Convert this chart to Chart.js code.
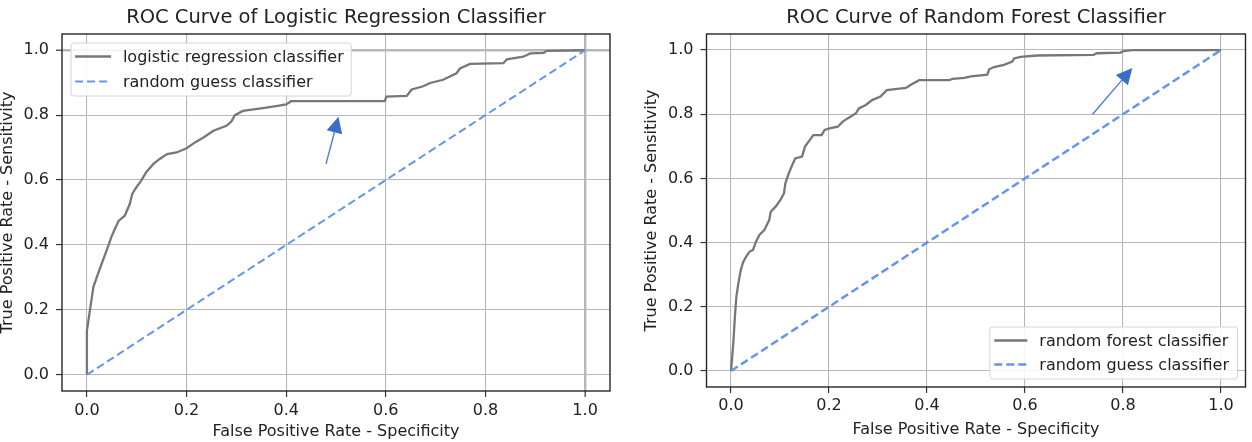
<!DOCTYPE html>
<html>
<head>
<meta charset="utf-8">
<script src="https://cdn.jsdelivr.net/npm/chart.js@4.4.0/dist/chart.umd.min.js"></script>
<style>
  html, body { margin: 0; padding: 0; background: #fff; }
  body { width: 1252px; height: 442px; position: relative; overflow: hidden; }
  canvas { position: absolute; top: 0; }
  #lrChart { left: 0; }
  #rfChart { left: 630px; }
</style>
</head>
<body>
<canvas id="lrChart" width="626" height="442"></canvas>
<canvas id="rfChart" width="622" height="442"></canvas>
<script>
// tick values used on both axes of both plots
const tickValues = [0, 0.2, 0.4, 0.6, 0.8, 1.0];

// logistic regression ROC curve
const lrFpr = [0, 0, 0.004, 0.009, 0.013, 0.022, 0.032, 0.042, 0.049, 0.056,
  0.064, 0.076, 0.086, 0.091, 0.099, 0.109, 0.119, 0.133, 0.146, 0.161,
  0.18, 0.2, 0.217, 0.234, 0.254, 0.28, 0.29, 0.297, 0.313, 0.346,
  0.38, 0.4, 0.41, 0.598, 0.601, 0.642, 0.652, 0.675, 0.689, 0.715,
  0.742, 0.749, 0.769, 0.836, 0.843, 0.876, 0.89, 0.917, 0.923, 1.0];
const lrTpr = [0, 0.136, 0.177, 0.229, 0.27, 0.31, 0.352, 0.393, 0.424, 0.449,
  0.475, 0.49, 0.526, 0.557, 0.577, 0.598, 0.624, 0.649, 0.665, 0.68,
  0.685, 0.698, 0.716, 0.731, 0.752, 0.767, 0.78, 0.80, 0.813, 0.82,
  0.828, 0.833, 0.843, 0.843, 0.857, 0.859, 0.879, 0.889, 0.899, 0.909,
  0.929, 0.944, 0.958, 0.96, 0.972, 0.98, 0.99, 0.992, 0.998, 1.0];

// random forest ROC curve
const rfFpr = [0, 0.005, 0.008, 0.011, 0.015, 0.02, 0.025, 0.031, 0.038, 0.045,
  0.051, 0.058, 0.068, 0.078, 0.081, 0.091, 0.101, 0.108, 0.111, 0.118,
  0.125, 0.131, 0.145, 0.151, 0.161, 0.168, 0.185, 0.191, 0.201, 0.218,
  0.228, 0.238, 0.255, 0.261, 0.275, 0.288, 0.305, 0.318, 0.357, 0.367,
  0.384, 0.445, 0.452, 0.476, 0.49, 0.523, 0.527, 0.537, 0.557, 0.574,
  0.578, 0.591, 0.625, 0.74, 0.747, 0.795, 0.801, 0.818, 1.0];
const rfTpr = [0, 0.093, 0.17, 0.232, 0.273, 0.315, 0.34, 0.356, 0.372, 0.377,
  0.403, 0.424, 0.439, 0.47, 0.496, 0.512, 0.533, 0.553, 0.585, 0.616,
  0.642, 0.662, 0.668, 0.699, 0.72, 0.735, 0.735, 0.751, 0.756, 0.761,
  0.777, 0.787, 0.803, 0.818, 0.829, 0.844, 0.855, 0.875, 0.882, 0.892,
  0.906, 0.906, 0.91, 0.913, 0.918, 0.923, 0.94, 0.947, 0.954, 0.964,
  0.974, 0.979, 0.983, 0.985, 0.99, 0.992, 0.997, 1.0, 1.0];

// random guess diagonal
const guessFpr = [0, 1];
const guessTpr = [0, 1];

// annotation arrows, tail -> tip, in data units
const lrArrow = { from: [0.48, 0.65], to: [0.505, 0.795] };
const rfArrow = { from: [0.738, 0.80], to: [0.819, 0.944] };

const FONT = '"DejaVu Sans", Verdana, sans-serif';
const TEXT = '#222';

const toPoints = (xs, ys) => xs.map((v, i) => ({ x: v, y: ys[i] }));

// arrow, axes frame and in-plot legend
const decorPlugin = {
  id: 'decor',
  afterDatasetsDraw(chart, args, opts) {
    const { ctx, chartArea: a, scales: { x, y } } = chart;
    ctx.save();

    // arrow
    const x0 = x.getPixelForValue(opts.arrow.from[0]), y0 = y.getPixelForValue(opts.arrow.from[1]);
    const x1 = x.getPixelForValue(opts.arrow.to[0]), y1 = y.getPixelForValue(opts.arrow.to[1]);
    const ang = Math.atan2(y1 - y0, x1 - x0);
    const hl = 16, hw = 8;
    const bx = x1 - hl * Math.cos(ang), by = y1 - hl * Math.sin(ang);
    ctx.strokeStyle = '#4f7dd0';
    ctx.lineWidth = 1.4;
    ctx.beginPath(); ctx.moveTo(x0, y0); ctx.lineTo(bx, by); ctx.stroke();
    ctx.fillStyle = '#3a6dc8';
    ctx.beginPath();
    ctx.moveTo(x1, y1);
    ctx.lineTo(bx + hw * Math.sin(ang), by - hw * Math.cos(ang));
    ctx.lineTo(bx - hw * Math.sin(ang), by + hw * Math.cos(ang));
    ctx.closePath(); ctx.fill();

    // frame
    ctx.strokeStyle = '#262626';
    ctx.lineWidth = 1.4;
    ctx.strokeRect(a.left, a.top, a.right - a.left, a.bottom - a.top);

    // legend
    const lg = opts.legend;
    const sets = chart.data.datasets;
    ctx.font = '16px ' + FONT;
    const textW = Math.max(...sets.map(d => ctx.measureText(d.label).width));
    const w = lg.padX + lg.sample + lg.gap + textW + lg.padRight;
    const h = lg.padY * 2 + lg.rowH * (sets.length - 1);
    const lx = lg.corner === 'tl' ? a.left + lg.inset : a.right - lg.inset - w;
    const ly = lg.corner === 'tl' ? a.top + lg.inset : a.bottom - lg.inset - h;
    ctx.fillStyle = 'rgba(255,255,255,0.85)';
    ctx.strokeStyle = '#d4d4d4';
    ctx.lineWidth = 1;
    ctx.beginPath();
    ctx.roundRect(lx + 0.5, ly + 0.5, w, h, 3);
    ctx.fill(); ctx.stroke();
    sets.forEach((d, i) => {
      const cy = ly + lg.padY + i * lg.rowH;
      ctx.strokeStyle = d.borderColor;
      ctx.lineWidth = d.borderWidth;
      ctx.setLineDash(d.borderDash || []);
      ctx.beginPath();
      ctx.moveTo(lx + lg.padX, cy);
      ctx.lineTo(lx + lg.padX + lg.sample, cy);
      ctx.stroke();
      ctx.setLineDash([]);
      ctx.fillStyle = TEXT;
      ctx.textBaseline = 'middle';
      ctx.textAlign = 'left';
      ctx.fillText(d.label, lx + lg.padX + lg.sample + lg.gap, cy + 1);
    });
    ctx.restore();
  }
};

function axis(cfg, horizontal) {
  return {
    type: 'linear',
    min: -0.05,
    max: 1.05,
    afterBuildTicks: (s) => { s.ticks = tickValues.map(v => ({ value: v })); },
    afterFit: (s) => {
      if (horizontal) s.height = cfg.xHeight; else s.width = cfg.yWidth;
    },
    grid: {
      color: '#b8b8b8',
      lineWidth: (c) => (c.tick && c.tick.value === 1) ? cfg.oneLine : 1.1,
      drawTicks: true,
      tickLength: 6,
      tickColor: '#333',
      tickWidth: 1.2
    },
    border: { display: false },
    ticks: {
      color: TEXT,
      font: { family: FONT, size: 16 },
      padding: horizontal ? cfg.xTickPad : 7,
      callback: (v) => Number(v).toFixed(1)
    },
    title: {
      display: true,
      text: horizontal ? 'False Positive Rate - Specificity' : 'True Positive Rate - Sensitivity',
      color: TEXT,
      font: { family: FONT, size: 16, lineHeight: 1 },
      padding: horizontal ? { top: 0, bottom: cfg.xTitlePad } : { top: cfg.yTitlePad, bottom: 0 }
    }
  };
}

function makeChart(id, cfg) {
  return new Chart(document.getElementById(id), {
    type: 'scatter',
    data: {
      datasets: [
        {
          label: cfg.curveLabel,
          data: toPoints(cfg.fpr, cfg.tpr),
          showLine: true,
          borderColor: '#777777',
          borderWidth: 2.3,
          pointRadius: 0,
          tension: 0,
          order: 1
        },
        {
          label: 'random guess classifier',
          data: toPoints(guessFpr, guessTpr),
          showLine: true,
          borderColor: '#6495ED',
          borderWidth: cfg.guessWidth,
          borderDash: [8, 4],
          pointRadius: 0,
          order: 0
        }
      ]
    },
    options: {
      responsive: false,
      animation: false,
      events: [],
      layout: { padding: { left: 0, right: cfg.rightPad, top: 0, bottom: 0 } },
      scales: { x: axis(cfg, true), y: axis(cfg, false) },
      plugins: {
        legend: { display: false },
        tooltip: { enabled: false },
        title: {
          display: true,
          fullSize: false,
          text: cfg.title,
          color: TEXT,
          font: { family: FONT, size: 19.5, weight: 'normal', lineHeight: 1.2 },
          padding: { top: 6.4, bottom: 4.2 }
        },
        decor: { arrow: cfg.arrow, legend: cfg.legend }
      }
    },
    plugins: [decorPlugin]
  });
}

makeChart('lrChart', {
  title: 'ROC Curve of Logistic Regression Classifier',
  curveLabel: 'logistic regression classifier',
  fpr: lrFpr, tpr: lrTpr,
  arrow: lrArrow,
  guessWidth: 2,
  oneLine: 2.4,
  yWidth: 62, xHeight: 51, rightPad: 16,
  xTickPad: 4, xTitlePad: 2, yTitlePad: 0,
  legend: { corner: 'tl', inset: 8.5, padX: 4.6, sample: 36, gap: 11.8, padRight: 7, padY: 14, rowH: 25 }
});

makeChart('rfChart', {
  title: 'ROC Curve of Random Forest Classifier',
  curveLabel: 'random forest classifier',
  fpr: rfFpr, tpr: rfTpr,
  arrow: rfArrow,
  guessWidth: 2.5,
  oneLine: 1.1,
  yWidth: 76.5, xHeight: 55, rightPad: 6.5,
  xTickPad: 3, xTitlePad: 4, yTitlePad: 14,
  legend: { corner: 'br', inset: 8.5, padX: 5, sample: 33, gap: 12, padRight: 8, padY: 14, rowH: 24 }
});
</script>
</body>
</html>
